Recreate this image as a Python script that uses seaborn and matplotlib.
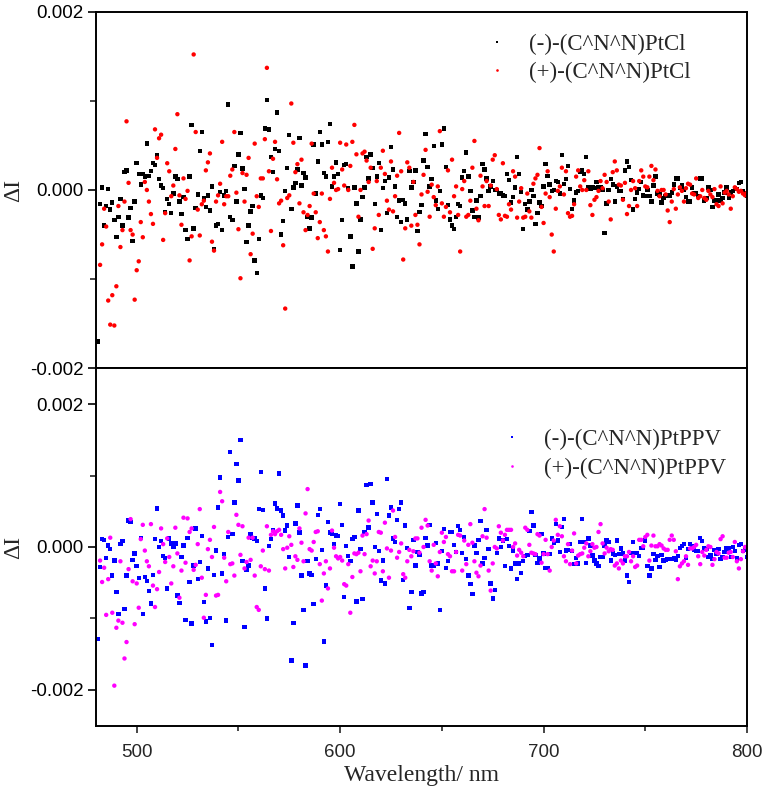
import numpy as np
import pandas as pd
import matplotlib
matplotlib.use('Agg')
import matplotlib.pyplot as plt
import seaborn as sns

nan = np.nan

# wavelength grid of the measurement (nm)
wavelength = np.arange(481, 801)

# Delta I values, in units of 1e-4
ptcl_minus = [
    -17.0, -1.6, 0.3, -4.0, -1.8, 0.1, -2.2, -1.4, -3.4, -5.3,
    -3.0, -1.0, -4.0, 2.0, 2.2, -3.1, -2.0, -5.7, -1.3, 3.0,
    1.8, 0.6, 1.8, 1.5, 5.2, 1.6, 2.1, 3.0, 2.8, 3.9,
    1.2, 0.5, 0.2, -2.5, -1.0, -1.6, -2.6, -0.4, 1.5, 1.2,
    -1.3, -2.7, -0.8, -4.5, -5.5, 1.5, 7.3, -4.3, -2.0, -0.5,
    4.4, 6.5, -0.9, -1.9, -0.6, -2.3, 0.4, -6.6, -4.0, -3.8,
    -0.2, -4.5, -0.6, -0.1, 9.6, -3.0, -3.4, 2.7, -1.3, 4.0,
    6.4, 2.4, 0.1, -5.8, -4.0, -2.4, -1.8, -7.9, -9.3, -5.5,
    -0.6, -0.9, 6.9, 10.1, 6.8, 3.7, 2.0, 4.6, 8.7, 4.4,
    -5.0, -3.5, -0.1, 2.5, 6.2, -2.1, 0.3, 0.8, 2.3, 5.8,
    0.5, 1.9, 1.4, -3.0, -4.3, -3.1, 5.1, -0.4, 3.2, 6.5,
    5.1, 1.9, 1.5, 5.4, 7.4, 0.4, 1.5, 3.1, 1.8, -6.7,
    -3.4, 2.8, 2.9, 0.2, -5.2, -8.6, 0.3, -1.5, -6.9, -3.3,
    -0.8, 0.3, 3.7, 1.3, 4.0, 2.5, -1.6, 1.5, 3.0, -4.5,
    0.2, 1.0, -2.6, 1.4, 4.8, 2.3, 0.4, -3.0, -1.2, -3.6,
    -1.1, -1.5, -3.3, 2.1, 0.3, 0.9, 2.2, -4.6, -2.5, -1.7,
    3.3, 6.3, 2.6, 0.4, 1.2, 4.9, -1.2, -2.1, -0.1, 5.1,
    6.9, 2.6, -1.7, -3.3, -4.0, -4.4, -3.0, -1.6, -1.8, 1.4,
    2.1, 4.2, 1.5, -0.1, -2.3, -3.0, -1.2, -3.1, -0.7, 2.9,
    2.3, 1.3, -0.1, 0.4, 1.0, 0.0, 0.0, -0.4, -0.4, -0.6,
    -0.7, 1.8, 1.1, -1.4, -0.8, 0.3, 3.7, 1.8, -0.2, -4.4,
    -1.6, -2.2, -1.3, 0.0, -0.7, -3.8, -2.6, -1.4, -1.8, 0.4,
    2.9, 1.6, 0.6, -0.1, 0.0, 1.0, 0.9, -0.4, 3.9, 0.7,
    1.2, 2.7, 0.1, -2.1, -1.2, -0.3, -0.1, 2.0, 2.2, 1.8,
    3.7, 0.3, 0.1, 0.3, 0.2, 0.9, 0.3, 0.3, 0.0, -4.8,
    -1.5, 0.0, 1.2, 0.6, -1.3, 0.4, -0.1, -0.1, -1.0, 2.2,
    3.2, 2.6, 1.1, -2.2, -1.0, -0.3, 0.1, 0.9, -0.6, -0.7,
    0.0, -0.7, -1.3, 0.5, 1.5, -0.4, -0.5, -1.4, -0.9, -0.7,
    -0.6, -0.7, -0.3, 0.6, 1.3, 1.3, 0.2, 0.5, 0.0, -0.8,
    -1.3, -1.3, 0.3, -0.4, -0.4, -0.7, 1.3, 1.3, -1.2, -0.9,
    0.3, 0.0, -1.9, -1.2, -1.2, -0.5, -1.2, -0.9, -0.3, 0.3,
    -0.9, -0.3, -0.1, 0.2, 0.1, 0.8, 0.9, -0.1, -0.4, -0.6,
]

ptcl_plus = [
    nan, -8.4, -6.1, -2.1, -4.1, -12.4, -15.1, -11.8, -15.2, -10.8,
    -1.8, -6.4, -4.5, -1.3, 7.7, 0.8, -4.5, -5.0, -12.3, -9.0,
    -8.0, -3.6, -5.3, 0.9, 0.0, -1.3, -2.7, -3.8, 6.8, 3.6,
    5.8, 6.2, -5.6, -2.6, 3.0, 2.1, -0.7, 0.5, 4.6, 8.5,
    -0.6, -3.9, 1.3, -1.0, -0.1, -7.9, -5.2, 15.2, 6.5, -2.2,
    -5.1, -1.6, -1.2, 2.2, 3.1, 4.1, -5.8, -6.8, -1.3, -0.6,
    0.7, 5.4, -1.6, -0.7, -0.7, 1.6, 2.3, 6.5, -0.3, -4.4,
    -9.9, 1.9, -1.3, 1.7, 3.6, -7.2, -4.9, 5.2, -0.7, -1.9,
    1.3, 1.3, 5.7, 13.7, 2.1, -4.6, 3.5, 5.4, 1.2, -1.5,
    -1.2, -6.2, -13.3, -0.9, -0.6, 9.7, 5.3, 2.0, 2.9, -1.5,
    3.4, -2.5, -4.5, -2.8, -1.8, 5.2, -0.4, -2.5, -5.4, -3.6,
    -0.4, -4.5, -5.2, -6.9, -1.0, 2.5, 0.8, 0.0, 0.1, 5.3,
    2.3, 0.5, 5.1, 0.0, 2.7, 5.4, 7.3, 4.0, -3.0, 0.0,
    4.1, 4.3, 3.3, 0.9, 2.5, -6.6, -4.3, 1.0, -2.8, 2.5,
    4.4, 1.8, -1.2, -2.2, 3.2, -2.4, -0.7, 1.6, 6.4, 2.1,
    -7.8, -4.3, 3.1, 2.5, -4.0, 0.9, -2.8, -3.9, -6.1, -0.5,
    1.7, 4.5, -0.2, -3.0, 0.6, -0.8, -1.7, 0.4, 6.6, -1.5,
    -3.0, -1.9, 2.2, -2.5, 3.4, -0.7, 0.4, -2.8, -6.9, 0.1,
    1.0, -3.0, -2.8, -1.2, 2.5, 5.5, -2.1, -3.4, 1.6, 0.4,
    -1.8, 1.0, -1.8, 0.5, 3.4, 3.9, 0.1, -2.8, -3.3, 3.0,
    -2.9, -3.0, -1.6, -2.2, 2.1, 1.5, -3.1, -1.3, 0.2, -3.1,
    -3.0, -0.4, -2.4, -3.1, 0.7, 1.3, 1.7, 4.7, -1.9, -3.7,
    -0.4, 2.1, -0.8, -5.0, -6.9, -2.1, -0.1, 0.4, 2.5, -0.5,
    2.1, -2.6, -3.0, -2.9, -1.6, 1.5, 2.2, 0.4, 0.0, 1.1,
    0.0, 2.1, -1.7, -2.8, -1.1, -0.8, -0.1, 1.0, 0.2, 1.7,
    0.9, -1.3, -3.3, 2.0, 3.2, 2.2, 0.6, 0.5, -1.1, 0.8,
    -2.7, -1.8, 0.0, 1.0, 0.2, -1.8, 1.0, 2.2, 1.5, 0.4,
    0.3, 1.5, 2.7, 1.1, 2.3, -0.1, -0.7, 0.0, 0.0, -0.5,
    -2.3, -3.6, -1.3, 0.1, -2.1, -0.5, 0.3, -0.1, -1.3, 0.2,
    0.7, 0.6, -0.4, -0.5, 1.3, -0.9, -0.7, 0.0, -0.9, -1.1,
    -0.1, -0.5, -0.8, 0.1, -1.6, -1.8, 0.4, -1.5, -0.3, -0.1,
    -0.5, -2.1, -0.7, 0.3, 0.1, -0.2, -0.1, -0.4, -0.6, -0.3,
]

ppv_minus = [
    -12.9, -2.8, 1.1, 1.0, -1.5, 0.2, -0.3, -4.0, -1.9, -6.3,
    -9.4, 0.4, 0.8, -8.7, -4.0, 3.7, 3.5, -1.8, -0.9, -2.7,
    -4.3, 1.3, -9.4, -4.2, -4.8, -6.2, -7.9, -3.9, 1.1, 5.4,
    0.0, 0.8, -1.3, -1.5, -5.8, 1.2, 0.5, 0.0, 0.5, -6.8,
    -7.8, -1.4, 0.2, -10.2, 1.3, -4.9, -10.7, -2.6, 2.6, -4.5,
    -2.1, 1.5, -7.7, -10.4, -3.0, -9.9, -13.7, -3.9, -0.5, 5.5,
    9.7, -3.7, -1.0, -10.3, 1.4, 13.3, 1.8, 6.2, 11.6, 9.3,
    15.0, -2.0, -11.2, -3.2, -2.6, 1.8, 1.3, 1.2, 0.8, 5.3,
    10.5, 5.2, -5.8, -10.0, 0.1, 1.1, 2.4, 6.1, 5.4, 10.3,
    5.1, 4.4, 2.3, 3.0, -1.4, -15.9, -10.6, 3.3, 5.8, 2.0,
    -4.0, -8.8, -16.6, -2.0, -3.7, -3.9, -8.0, -1.7, 4.5, 5.3,
    -0.4, -13.2, -5.4, 3.5, 2.0, 1.8, 0.4, 1.6, 1.5, 6.0,
    3.1, -7.0, 0.1, -1.3, -2.0, 1.1, 1.4, -7.6, 5.1, -0.3,
    -7.3, 2.1, 8.7, 2.7, 8.8, 6.2, 0.0, 4.6, -0.6, -4.7,
    -1.9, -5.1, 9.5, 4.4, 5.5, 1.2, 0.7, 3.8, 5.3, 6.2,
    -4.6, 3.0, -0.1, -8.5, -6.3, 1.0, -2.6, -0.7, -1.1, -6.5,
    -6.3, 1.3, 0.2, 3.1, -2.6, -2.6, 0.6, -2.3, -8.8, -0.6,
    2.5, -2.9, -2.0, 2.1, 2.1, 0.3, -0.7, 2.9, 2.4, -0.8,
    1.4, -1.7, -4.0, -5.2, -6.6, 0.2, -0.8, 1.0, 3.6, -2.3,
    -1.5, 2.4, -0.3, -5.1, -7.2, -6.0, -0.8, 1.2, 0.0, 0.9,
    -2.7, 1.1, 0.1, -3.0, -0.5, -2.3, -4.5, -2.3, -3.6, -2.0,
    -1.3, -1.1, 2.2, 4.9, 3.0, -1.1, -2.2, -1.6, 1.8, -0.9,
    -2.9, -2.9, -1.0, 1.2, 0.6, 3.2, 0.9, -0.7, 2.8, 3.9,
    -0.5, -0.4, 0.4, -0.6, -2.4, -1.5, -2.3, 0.7, 3.9, 0.7,
    -2.2, 1.2, 0.2, -1.2, -1.9, -2.3, -2.7, -1.4, -1.4, 0.2,
    0.9, 0.7, -1.9, -0.9, -1.1, 0.9, -1.0, -0.2, -0.9, -1.9,
    -4.0, -4.9, -0.8, 0.7, -0.8, -0.8, -1.3, -0.1, -0.1, 0.9,
    -2.7, -4.0, -3.0, -1.0, -1.8, -1.3, -2.8, -1.1, -1.9, -1.8,
    -1.7, -1.7, -1.7, -1.5, -1.8, -1.3, -0.1, 0.1, 0.4, -1.5,
    -0.3, 0.4, 0.1, -0.4, -0.6, -0.6, 1.3, 0.8, -0.2, -0.3,
    -1.4, -1.2, -1.7, -0.4, -0.9, -0.3, -1.7, -1.4, -0.7, -0.1,
    -0.2, -1.4, 0.0, -0.6, -1.6, 0.3, 0.4, -0.6, -0.4, -1.4,
]

ppv_plus = [
    nan, -1.9, -4.9, -2.9, -9.5, -4.5, 1.3, -9.2, -19.4, -11.3,
    -10.3, -2.0, -10.6, -15.6, -13.3, -3.1, 3.9, -4.8, -10.8, -5.1,
    -8.5, 1.1, 3.1, -0.5, -2.0, -2.7, 3.2, -5.4, -8.4, -5.9,
    -3.5, 2.6, 0.4, -2.1, 1.2, -1.4, -5.1, -2.7, 2.7, -0.9,
    -7.1, -3.3, 4.1, -2.2, 4.0, 2.1, 2.6, -3.2, -2.5, 0.4,
    5.3, -4.3, -9.9, -6.7, -0.3, 1.0, -1.4, 2.8, -6.8, -6.7,
    7.7, 6.4, -1.5, -4.8, 2.1, -2.4, -2.3, -4.0, 4.5, 3.1,
    -1.1, 2.9, -3.0, -2.1, 1.3, -1.8, 1.3, -4.0, -8.4, -8.8,
    -2.7, -0.5, -3.1, 2.9, -3.3, 1.7, 2.2, 1.8, 2.2, 2.4,
    1.7, -0.3, -3.0, -0.1, 1.5, 0.3, -2.8, -1.3, -1.8, 2.6,
    0.6, -2.0, 4.7, 8.1, -0.3, -0.5, 0.7, 2.1, 2.2, -2.4,
    -7.5, -3.7, -2.0, -5.8, -3.0, 2.3, -0.1, -1.3, -1.6, -1.4,
    -1.9, -5.2, -5.4, -2.4, -9.2, -4.2, -0.9, -1.0, -0.8, -3.4,
    1.6, -1.0, 1.8, 3.7, -2.7, -1.9, -3.7, -2.0, 2.1, 2.0,
    -3.4, 3.4, -0.2, -4.3, -0.5, 5.1, 1.4, -1.5, -0.7, 0.5,
    -3.8, -4.3, -2.0, -0.4, -1.3, -0.6, 1.2, 1.2, -0.8, 2.7,
    0.0, 3.8, 3.0, -2.0, -3.3, 0.3, -2.3, -4.1, -0.7, 2.0,
    0.7, 1.4, -1.0, -1.3, -3.4, -3.4, -0.7, 1.7, 1.6, -3.3,
    0.9, -2.4, 0.3, 3.2, 0.6, -2.0, -3.6, -4.1, -2.6, 1.5,
    5.3, 1.3, -3.3, -6.1, -2.3, 0.0, -0.2, 2.9, 2.0, 0.9,
    1.7, 2.4, 2.4, 2.4, 0.0, 0.5, -1.2, -0.4, -0.8, -1.3,
    2.7, 2.4, 0.3, -0.8, -0.9, -1.0, 1.8, 1.6, -2.2, -1.0,
    1.0, -1.0, -3.3, 0.0, 0.9, 3.8, 1.7, 2.9, 1.5, -1.3,
    -2.0, 0.4, -2.4, -0.5, 1.9, -2.3, -1.2, -1.0, -0.9, -0.1,
    0.5, -1.3, -0.6, 0.4, -0.1, 0.0, 2.1, 3.2, 0.5, -0.9,
    -0.1, -0.6, -0.3, -0.4, -2.6, -2.3, -3.0, -1.9, -2.3, -1.3,
    -1.3, -0.7, -2.0, -1.3, -2.8, -2.6, 1.0, 1.0, 0.1, 1.4,
    1.7, -1.9, 0.2, 1.6, 0.1, 0.1, 0.4, 0.2, -0.2, -0.4,
    -0.4, 1.0, 1.6, 1.0, -0.6, -4.5, -2.7, -2.3, -2.0, -1.3,
    -2.5, -0.2, -0.2, 0.0, 0.3, -1.3, -2.4, -0.7, -1.2, -0.4,
    0.1, 0.0, -2.5, -1.7, -0.7, -0.9, 1.1, 1.5, -1.5, -1.5,
    -0.8, -0.7, -1.4, 0.7, -2.0, -3.0, -1.7, -0.6, 0.0, -0.1,
]

top_names = ['(-)-(C^N^N)PtCl', '(+)-(C^N^N)PtCl']
bottom_names = ['(-)-(C^N^N)PtPPV', '(+)-(C^N^N)PtPPV']
y_ticks = [-0.002, 0.0, 0.002]
y_ticklabels = ['-0.002', '0.000', '0.002']
x_ticks = [500, 600, 700, 800]


def long_frame(names, series):
    parts = []
    for name, vals in zip(names, series):
        parts.append(pd.DataFrame({'wavelength': wavelength,
                                   'dI': np.array(vals) * 1e-4,
                                   'sample': name}))
    return pd.concat(parts, ignore_index=True).dropna()


df_top = long_frame(top_names, [ptcl_minus, ptcl_plus])
df_bot = long_frame(bottom_names, [ppv_minus, ppv_plus])

sns.set_style('ticks')
plt.rcParams['font.family'] = ['Liberation Sans', 'DejaVu Sans']
serif = ['Liberation Serif', 'DejaVu Serif']

fig = plt.figure(figsize=(7.65, 7.88), dpi=100)
ax_top = fig.add_axes([0.1255, 0.5326, 0.851, 0.4526])
ax_bot = fig.add_axes([0.1255, 0.0791, 0.851, 0.4535])

sns.scatterplot(data=df_top, x='wavelength', y='dI', hue='sample', style='sample',
                palette=['#000000', '#ff0000'], markers=['s', 'o'], s=10,
                linewidth=0, ax=ax_top)
sns.scatterplot(data=df_bot, x='wavelength', y='dI', hue='sample', style='sample',
                palette=['#0000ff', '#ff00ff'], markers=['s', 'o'], s=10,
                linewidth=0, ax=ax_bot)

for ax in (ax_top, ax_bot):
    ax.set_xlim(480, 800)
    ax.set_yticks(y_ticks)
    ax.set_yticklabels(y_ticklabels)
    ax.set_yticks([-0.001, 0.001], minor=True)
    ax.set_ylabel('ΔI', fontfamily=serif, fontsize=17)
    ax.yaxis.set_label_coords(-0.11, 0.5)
    for sp in ax.spines.values():
        sp.set_linewidth(1.4)
        sp.set_color('black')
    ax.tick_params(axis='y', which='major', direction='out', length=5.8, width=1.2,
                   labelsize=13.5, pad=3, colors='black')
    ax.tick_params(axis='y', which='minor', direction='out', length=4, width=1.2)

ax_top.set_ylim(-0.002, 0.002)
ax_bot.set_ylim(-0.0025, 0.0025)

ax_top.set_xlabel('')
ax_top.tick_params(axis='x', which='both', bottom=False, labelbottom=False)

ax_bot.set_xticks(x_ticks)
ax_bot.set_xticks([550, 650, 750], minor=True)
ax_bot.tick_params(axis='x', which='major', direction='out', length=5.2, width=1.2,
                   labelsize=13.5, pad=8)
ax_bot.tick_params(axis='x', which='minor', direction='out', length=3.6, width=1.2)
ax_bot.set_xlabel('Wavelength/ nm', fontfamily=serif, fontsize=17, labelpad=3)

handles, labels = ax_top.get_legend_handles_labels()
ax_top.legend(handles, labels, loc='upper left', bbox_to_anchor=(0.567, 0.964),
              frameon=False, prop={'family': serif, 'size': 16.5},
              handlelength=2.0, handletextpad=0.4, labelspacing=0.32,
              borderaxespad=0, markerscale=0.6)
handles, labels = ax_bot.get_legend_handles_labels()
ax_bot.legend(handles, labels, loc='upper left', bbox_to_anchor=(0.590, 0.856),
              frameon=False, prop={'family': serif, 'size': 16.5},
              handlelength=2.0, handletextpad=0.4, labelspacing=0.32,
              borderaxespad=0, markerscale=0.6)

fig.savefig('out.png', dpi=100)
